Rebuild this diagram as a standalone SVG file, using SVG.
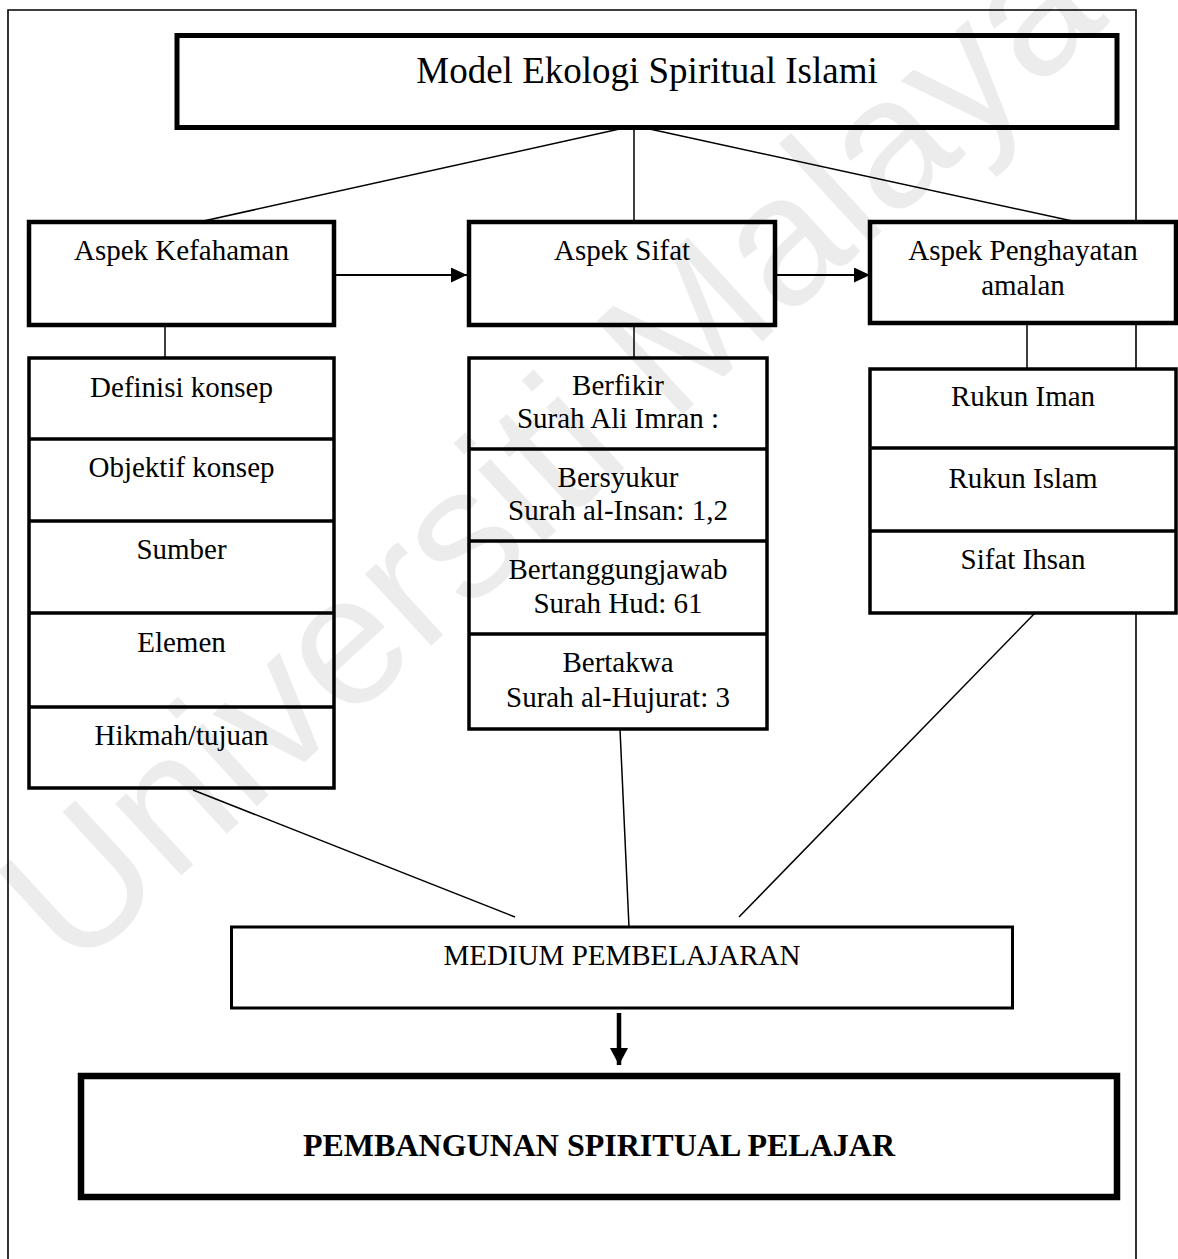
<svg xmlns="http://www.w3.org/2000/svg" width="1178" height="1259" viewBox="0 0 1178 1259">
<style>
.t{font-family:"Liberation Serif","Times New Roman",serif;font-size:29px;fill:#000;text-anchor:middle}
.title{font-size:37px}
.bold{font-size:32px;font-weight:bold}
.box{fill:#fff;stroke:#000}
.c{stroke:#000;stroke-width:1.5;fill:none}
.wm{font-family:"Liberation Sans",Arial,sans-serif;font-size:185px;fill:#000;fill-opacity:0.075;text-anchor:middle}
</style>
<defs>
<marker id="ah" markerUnits="userSpaceOnUse" markerWidth="17" markerHeight="16" refX="16" refY="7.5" orient="auto" viewBox="0 0 17 16">
<path d="M0,0 L16,7.5 L0,15 z" fill="#000"/>
</marker>
<marker id="ahd" markerUnits="userSpaceOnUse" markerWidth="19" markerHeight="19" refX="17" refY="9" orient="auto" viewBox="0 0 19 19">
<path d="M0,0 L17,9 L0,18 z" fill="#000"/>
</marker>
</defs>
<rect width="1178" height="1259" fill="#fff"/>
<path d="M8,1262 V10 H1136 V1262" fill="none" stroke="#000" stroke-width="1.6"/>
<g id="connectors">
<line class="c" x1="624" y1="128" x2="199" y2="222"/>
<line class="c" x1="634" y1="128" x2="634" y2="222"/>
<line class="c" x1="645" y1="128" x2="1077" y2="222"/>
<line stroke="#000" stroke-width="2.2" x1="334" y1="275" x2="467" y2="275" marker-end="url(#ah)"/>
<line stroke="#000" stroke-width="2.2" x1="775" y1="275" x2="870" y2="275" marker-end="url(#ah)"/>
<line class="c" x1="165" y1="325" x2="165" y2="358"/>
<line class="c" x1="634" y1="325" x2="634" y2="358"/>
<line class="c" x1="1027" y1="323" x2="1027" y2="369"/>
<line class="c" x1="193" y1="790" x2="515" y2="917"/>
<line class="c" x1="620" y1="729" x2="629" y2="927"/>
<line class="c" x1="1035" y1="613" x2="739" y2="917"/>
<line stroke="#000" stroke-width="4.5" x1="619" y1="1013" x2="619" y2="1065" marker-end="url(#ahd)"/>
</g>
<g id="title">
<rect class="box" x="177" y="35.5" width="940" height="92" stroke-width="5"/>
<text class="t title" x="647" y="83">Model Ekologi Spiritual Islami</text>
</g>
<g id="aspek-kefahaman">
<rect class="box" x="29" y="222" width="305" height="103" stroke-width="4.5"/>
<text class="t" x="181.5" y="260">Aspek Kefahaman</text>
</g>
<g id="aspek-sifat">
<rect class="box" x="469" y="222" width="306" height="103" stroke-width="4.5"/>
<text class="t" x="622" y="260">Aspek Sifat</text>
</g>
<g id="aspek-penghayatan">
<rect class="box" x="870" y="222" width="306" height="101" stroke-width="4.5"/>
<text class="t" x="1023" y="260">Aspek Penghayatan</text>
<text class="t" x="1023" y="295">amalan</text>
</g>
<g id="kefahaman-list">
<rect class="box" x="29" y="358" width="305" height="430" stroke-width="3.5"/>
<path d="M29,439 H334 M29,521 H334 M29,613 H334 M29,707 H334" stroke="#000" stroke-width="3.5"/>
<text class="t" x="181.5" y="397">Definisi konsep</text>
<text class="t" x="181.5" y="477">Objektif konsep</text>
<text class="t" x="181.5" y="559">Sumber</text>
<text class="t" x="181.5" y="652">Elemen</text>
<text class="t" x="181.5" y="745">Hikmah/tujuan</text>
</g>
<g id="sifat-list">
<rect class="box" x="469" y="358" width="298" height="371" stroke-width="3.5"/>
<path d="M469,449 H767 M469,541 H767 M469,634 H767" stroke="#000" stroke-width="3.5"/>
<text class="t" x="618" y="395">Berfikir</text>
<text class="t" x="618" y="428">Surah Ali Imran :</text>
<text class="t" x="618" y="487">Bersyukur</text>
<text class="t" x="618" y="520">Surah al-Insan: 1,2</text>
<text class="t" x="618" y="579">Bertanggungjawab</text>
<text class="t" x="618" y="613">Surah Hud: 61</text>
<text class="t" x="618" y="672">Bertakwa</text>
<text class="t" x="618" y="707">Surah al-Hujurat: 3</text>
</g>
<g id="penghayatan-list">
<rect class="box" x="870" y="369" width="306" height="244" stroke-width="3.5"/>
<path d="M870,448 H1176 M870,531 H1176" stroke="#000" stroke-width="3.5"/>
<text class="t" x="1023" y="406">Rukun Iman</text>
<text class="t" x="1023" y="488">Rukun Islam</text>
<text class="t" x="1023" y="569">Sifat Ihsan</text>
</g>
<g id="medium">
<rect class="box" x="231.5" y="927" width="781" height="81" stroke-width="3"/>
<text class="t" x="622" y="965">MEDIUM PEMBELAJARAN</text>
</g>
<g id="pembangunan">
<rect class="box" x="81" y="1076" width="1036" height="121" stroke-width="6.5"/>
<text class="t bold" x="599" y="1156">PEMBANGUNAN SPIRITUAL PELAJAR</text>
</g>
<text class="wm" transform="translate(592,498) rotate(-42.6)">Universiti Malaya</text>
</svg>
